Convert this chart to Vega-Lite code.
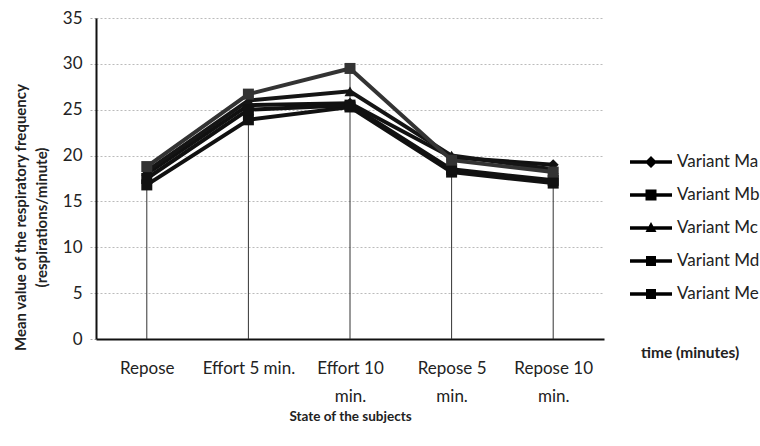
{
  "$schema": "https://vega.github.io/schema/vega-lite/v6.json",
  "width": 508,
  "height": 321,
  "autosize": "none",
  "padding": {"left": 96, "top": 18, "right": 156, "bottom": 107},
  "background": "white",
  "config": {"font": "Lato", "view": {"stroke": null}},
  "data": {
    "values": [
      {"state": "Repose", "variant": "Variant Ma", "value": 18.0},
      {"state": "Repose", "variant": "Variant Mb", "value": 16.8},
      {"state": "Repose", "variant": "Variant Mc", "value": 18.3},
      {"state": "Repose", "variant": "Variant Md", "value": 17.5},
      {"state": "Repose", "variant": "Variant Me", "value": 18.8},
      {"state": "Effort 5 min.", "variant": "Variant Ma", "value": 25.5},
      {"state": "Effort 5 min.", "variant": "Variant Mb", "value": 23.9},
      {"state": "Effort 5 min.", "variant": "Variant Mc", "value": 26.0},
      {"state": "Effort 5 min.", "variant": "Variant Md", "value": 25.0},
      {"state": "Effort 5 min.", "variant": "Variant Me", "value": 26.7},
      {"state": "Effort 10 min.", "variant": "Variant Ma", "value": 25.7},
      {"state": "Effort 10 min.", "variant": "Variant Mb", "value": 25.3},
      {"state": "Effort 10 min.", "variant": "Variant Mc", "value": 27.0},
      {"state": "Effort 10 min.", "variant": "Variant Md", "value": 25.5},
      {"state": "Effort 10 min.", "variant": "Variant Me", "value": 29.5},
      {"state": "Repose 5 min.", "variant": "Variant Ma", "value": 19.8},
      {"state": "Repose 5 min.", "variant": "Variant Mb", "value": 18.2},
      {"state": "Repose 5 min.", "variant": "Variant Mc", "value": 20.0},
      {"state": "Repose 5 min.", "variant": "Variant Md", "value": 18.5},
      {"state": "Repose 5 min.", "variant": "Variant Me", "value": 19.5},
      {"state": "Repose 10 min.", "variant": "Variant Ma", "value": 19.0},
      {"state": "Repose 10 min.", "variant": "Variant Mb", "value": 17.0},
      {"state": "Repose 10 min.", "variant": "Variant Mc", "value": 18.5},
      {"state": "Repose 10 min.", "variant": "Variant Md", "value": 17.3},
      {"state": "Repose 10 min.", "variant": "Variant Me", "value": 18.2}
    ]
  },
  "encoding": {
    "x": {
      "field": "state",
      "type": "nominal",
      "sort": ["Repose", "Effort 5 min.", "Effort 10 min.", "Repose 5 min.", "Repose 10 min."],
      "scale": {"type": "point", "padding": 0.5},
      "axis": {
        "title": "State of the subjects",
        "titleFontSize": 13.5,
        "titleFontWeight": "bold",
        "titleColor": "#222",
        "titleY": 70,
        "titleBaseline": "top",
        "labelAngle": 0,
        "labelFontSize": 17,
        "labelColor": "#222",
        "labelPadding": 21,
        "labelLineHeight": 28,
        "labelExpr": "(datum.value == 'Effort 10 min.' || datum.value == 'Repose 5 min.' || datum.value == 'Repose 10 min.') ? [replace(datum.value, ' min.', ''), 'min.'] : datum.value",
        "ticks": false,
        "grid": false,
        "domainColor": "#111",
        "domainWidth": 2
      }
    },
    "y": {
      "field": "value",
      "type": "quantitative",
      "scale": {"domain": [0, 35]},
      "axis": {
        "values": [0, 5, 10, 15, 20, 25, 30, 35],
        "title": ["Mean value of the respiratory frequency", "(respirations/minute)"],
        "titleFontSize": 15,
        "titleFontWeight": "bold",
        "titleColor": "#222",
        "titleLineHeight": 21,
        "titleX": -83,
        "titleY": 199,
        "titleBaseline": "top",
        "titleAlign": "center",
        "labelFontSize": 17,
        "labelColor": "#222",
        "labelPadding": 8,
        "ticks": true,
        "tickSize": 6,
        "tickColor": "#aaa",
        "tickDash": [2, 2],
        "grid": true,
        "gridColor": "#bbb",
        "gridDash": [2, 2],
        "domainColor": "#111",
        "domainWidth": 2
      }
    }
  },
  "layer": [
    {
      "transform": [
        {"aggregate": [{"op": "max", "field": "value", "as": "value"}], "groupby": ["state"]}
      ],
      "mark": {"type": "rule", "color": "#333", "strokeWidth": 1},
      "encoding": {"y2": {"datum": 0}}
    },
    {
      "mark": {"type": "line", "strokeWidth": 4},
      "encoding": {
        "color": {
          "field": "variant",
          "type": "nominal",
          "scale": {"domain": ["Variant Ma", "Variant Mb", "Variant Mc", "Variant Md", "Variant Me"], "range": ["#111", "#111", "#151515", "#111", "#333"]},
          "legend": null
        }
      }
    },
    {
      "mark": {"type": "point", "filled": true, "size": 121, "opacity": 1},
      "encoding": {
        "color": {"field": "variant", "type": "nominal", "legend": null},
        "shape": {
          "field": "variant",
          "type": "nominal",
          "scale": {"domain": ["Variant Ma", "Variant Mb", "Variant Mc", "Variant Md", "Variant Me"], "range": ["diamond", "square", "triangle-up", "square", "square"]},
          "legend": null
        }
      }
    },
    {
      "mark": {"type": "point", "filled": true, "opacity": 0, "color": "black"},
      "encoding": {
        "shape": {
          "field": "variant",
          "type": "nominal",
          "scale": {
            "domain": ["Variant Ma", "Variant Mb", "Variant Mc", "Variant Md", "Variant Me"],
            "range": [
              "M-2.1,-0.17H2.1V0.17H-2.1ZM0,-0.6L0.6,0L0,0.6L-0.6,0Z",
              "M-2.1,-0.17H2.1V0.17H-2.1ZM-0.55,-0.55H0.55V0.55H-0.55Z",
              "M-2.1,-0.17H2.1V0.17H-2.1ZM0,-0.6L0.55,0.4L-0.55,0.4Z",
              "M-2.1,-0.17H2.1V0.17H-2.1ZM-0.5,-0.5H0.5V0.5H-0.5Z",
              "M-2.1,-0.17H2.1V0.17H-2.1ZM-0.5,-0.5H0.5V0.5H-0.5Z"
            ]
          },
          "legend": {
            "orient": "none",
            "legendX": 545,
            "legendY": 134,
            "padding": 0,
            "title": "time (minutes)",
            "titleOrient": "bottom",
            "titleFontSize": 15.5,
            "titleFontWeight": "bold",
            "titleColor": "#222",
            "titlePadding": 44,
            "labelFontSize": 17,
            "labelColor": "#222",
            "labelOffset": 16,
            "symbolSize": 400,
            "symbolFillColor": "black",
            "symbolStrokeColor": "black",
            "symbolStrokeWidth": 0,
            "symbolOpacity": 1,
            "rowPadding": 15
          }
        }
      }
    }
  ],
  "resolve": {"scale": {"shape": "independent"}}
}
